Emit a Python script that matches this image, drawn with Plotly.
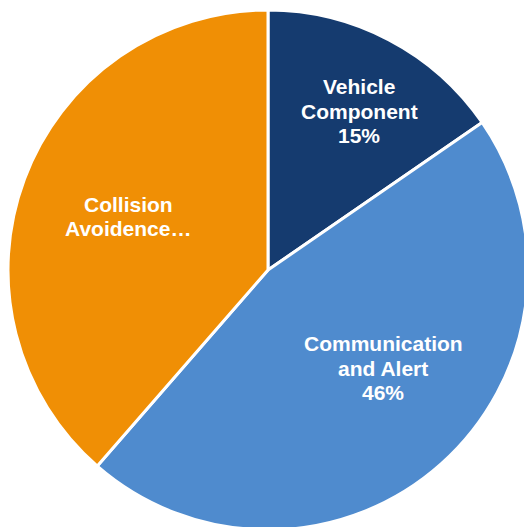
import plotly.graph_objects as go

labels = ["Vehicle Component", "Communication and Alert", "Collision Avoidence"]
values = [15.4, 46.0, 38.6]
colors = ["#153B6F", "#4F8BCE", "#F08F05"]
label_lines = [["Vehicle", "Component", "15%"],
               ["Communication", "and Alert", "46%"],
               ["Collision", "Avoidence…"]]

W, H = 524, 527
OFF = 8  # page body margin (left/top)
# pie centre (268, 270) on the page, radius 260
cx, cy, r = 268 - OFF, 270 - OFF, 260

fig = go.Figure(go.Pie(
    labels=labels,
    values=values,
    textinfo="none",
    sort=False,
    direction="clockwise",
    rotation=0,
    marker=dict(colors=colors, line=dict(color="white", width=3)),
    hoverinfo="label",
    domain=dict(x=[(cx - r) / W, (cx + r) / W], y=[(H - cy - r) / H, (H - cy + r) / H]),
    showlegend=False,
))

# label block centres (page pixels) and line spacing
label_pos = [(359, 111), (383, 368), (128, 216.5)]
line_gap = 24.3

annotations = []
for lines, (px, py) in zip(label_lines, label_pos):
    n = len(lines)
    for i, line in enumerate(lines):
        ly = py + (i - (n - 1) / 2) * line_gap
        annotations.append(dict(
            x=(px - OFF) / W, y=1 - (ly - OFF) / H, xref="paper", yref="paper",
            text=line, showarrow=False, xanchor="center", yanchor="middle",
            font=dict(family="Liberation Sans, Arial, sans-serif", size=21, color="white", weight="bold"),
        ))

fig.update_layout(
    width=W, height=H,
    margin=dict(l=0, r=0, t=0, b=0),
    paper_bgcolor="white",
    annotations=annotations,
)

fig.write_html(
    "out.html",
    post_script=(
        "document.documentElement.style.overflow='hidden';"
        "document.body.style.overflow='hidden';"
        "document.body.style.marginRight='0px';"
        "document.body.style.marginBottom='0px';"
    ),
)
